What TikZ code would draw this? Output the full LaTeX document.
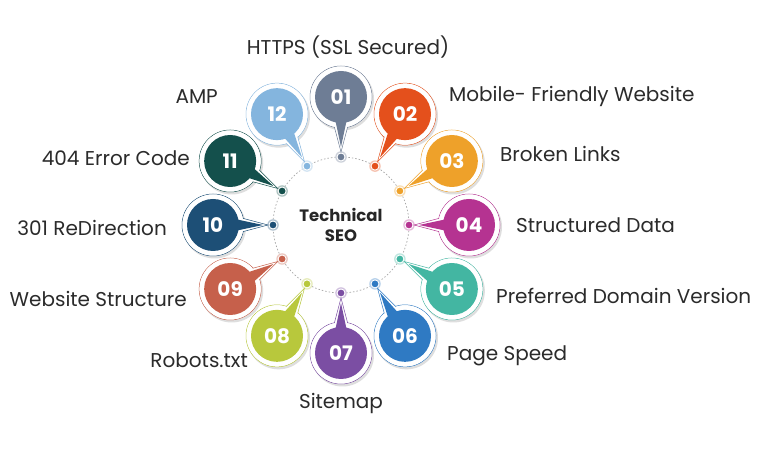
\documentclass[tikz,border=0pt]{standalone}
\usepackage{fontspec}
\setmainfont{Poppins}
\usetikzlibrary{positioning}

\definecolor{seoA}{HTML}{6E7D95}
\definecolor{seoB}{HTML}{E4501C}
\definecolor{seoC}{HTML}{EEA12A}
\definecolor{seoD}{HTML}{B53391}
\definecolor{seoE}{HTML}{43B6A2}
\definecolor{seoF}{HTML}{2F7AC3}
\definecolor{seoG}{HTML}{7B4EA3}
\definecolor{seoH}{HTML}{B8C83C}
\definecolor{seoI}{HTML}{C6604B}
\definecolor{seoJ}{HTML}{1D4F76}
\definecolor{seoK}{HTML}{14504C}
\definecolor{seoL}{HTML}{84B5DE}
\definecolor{seotext}{HTML}{2B2B2B}

\tikzset{
    numdisk/.style={circle, fill=#1, text=white, minimum size=52pt, inner sep=0pt,
        font=\bfseries\fontsize{20}{20}\selectfont},
    whitering/.style={circle, fill=white, draw=#1, line width=0.5pt, minimum size=62pt, inner sep=0pt},
    whitecore/.style={circle, fill=white, minimum size=61pt, inner sep=0pt},
    shadowring/.style={circle, fill=black!13, minimum size=63pt, inner sep=0pt},
    dotouter/.style={circle, fill=#1!35, minimum size=11.5pt, inner sep=0pt},
    dotinner/.style={circle, fill=#1, draw=white, line width=0.9pt, minimum size=8pt, inner sep=0pt},
    itemtext/.style={text=seotext, font=\fontsize{20}{20}\selectfont, inner sep=0pt,
        text height=14pt, text depth=0pt},
}

\begin{document}
\begin{tikzpicture}[x=1pt,y=1pt]
    \useasboundingbox (0,0) rectangle (760,470);
    \fill[white] (0,0) rectangle (760,470);

    \begin{scope}[shift={(341,245)}]
        \node[circle, draw=gray!70, dash pattern=on 1.5pt off 2pt, line width=0.7pt,
            minimum size=136pt, inner sep=0pt] (hub) at (0,0) {};
        \node[align=center, text=black!85, font=\bfseries\fontsize{16.5}{20}\selectfont] (title) at (0,0) {Technical\\SEO};

        \foreach \n/\a/\col in {01/90/seoA, 02/60/seoB, 03/30/seoC, 04/0/seoD,
            05/-30/seoE, 06/-60/seoF, 07/-90/seoG, 08/-120/seoH,
            09/-150/seoI, 10/180/seoJ, 11/150/seoK, 12/120/seoL} {
            % dot on the ring
            \node[dotouter=\col] (d\n) at (\a:68) {};
            \node[dotinner=\col] (di\n) at (d\n) {};
            % bubble with its tail
            \node[shadowring] (s\n) at ([shift={(1.5,-2)}]\a:128) {};
            \node[whitering=\col] (r\n) at (\a:128) {};
            \filldraw[fill=white, draw=\col, line width=0.5pt]
                (\a:73) -- ([shift={({\a+90}:13)}]\a:122) -- ([shift={({\a-90}:13)}]\a:122) -- cycle;
            \node[whitecore] (w\n) at (\a:128) {};
            \fill[\col] (\a:78) -- ([shift={({\a+90}:8.5)}]\a:118) -- ([shift={({\a-90}:8.5)}]\a:118) -- cycle;
            \node[numdisk=\col] (b\n) at (\a:128) {\n};
        }
    \end{scope}

    \node[itemtext, anchor=center] (l01) at (348,422) {HTTPS (SSL Secured)};
    \node[itemtext, anchor=west] (l02) at (449,375) {Mobile- Friendly Website};
    \node[itemtext, anchor=west] (l03) at (500,315) {Broken Links};
    \node[itemtext, anchor=west] (l04) at (516,244) {Structured Data};
    \node[itemtext, anchor=west] (l05) at (496,173) {Preferred Domain Version};
    \node[itemtext, anchor=west] (l06) at (447,116) {Page Speed};
    \node[itemtext, anchor=center] (l07) at (341,68) {Sitemap};
    \node[itemtext, anchor=east] (l08) at (248,109) {Robots.txt};
    \node[itemtext, anchor=east] (l09) at (187,170) {Website Structure};
    \node[itemtext, anchor=east] (l10) at (167,241) {301 ReDirection};
    \node[itemtext, anchor=east] (l11) at (190,311) {404 Error Code};
    \node[itemtext, anchor=east] (l12) at (218,373) {AMP};
\end{tikzpicture}
\end{document}
